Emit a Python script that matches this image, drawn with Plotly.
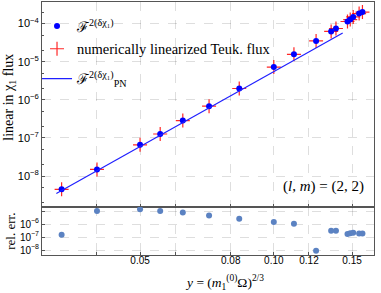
import plotly.graph_objects as go

# Data
y_vals = [0.0333, 0.0400, 0.0500, 0.0555, 0.0624, 0.0715, 0.0836, 0.1000, 0.1110,
          0.1245, 0.1346, 0.1380, 0.1465, 0.1486, 0.1509, 0.1556, 0.1583]
flux_teuk = [4.5e-9, 1.5e-8, 6.6e-8, 1.27e-7, 2.85e-7, 6.8e-7, 1.98e-6, 7.2e-6, 1.56e-5,
             3.5e-5, 6.2e-5, 7.4e-5, 1.13e-4, 1.27e-4, 1.49e-4, 1.82e-4, 2.0e-4]
flux_num = flux_teuk
pn_x = [0.0324, 0.0500, 0.0715, 0.1000, 0.1245, 0.1429]
pn_flux = [3.5e-9, 6.0e-8, 6.05e-7, 5.7e-6, 2.33e-5, 5.66e-5]
rel_err = [1.5e-7, 1.0e-5, 1.35e-5, 1.0e-5, 7.6e-6, 4.6e-6, 2.6e-6, 1.43e-6, 1.05e-6,
           9e-9, 3.1e-7, 3.1e-7, 1.7e-7, 2.0e-7, 2.1e-7, 1.9e-7, 1.9e-7]

x_grid = [0.04, 0.05, 0.06, 0.08, 0.10, 0.12, 0.15]
x_text = ["", "0.05", "", "0.08", "0.10", "0.12", "0.15"]
y_top_ticks = [1e-8, 1e-7, 1e-6, 1e-5, 1e-4]
y_top_text = ["10<sup>−8</sup>", "10<sup>−7</sup>", "10<sup>−6</sup>", "10<sup>−5</sup>", "10<sup>−4</sup>"]
y_bot_ticks = [1e-8, 1e-7, 1e-6, 1e-5]
y_bot_text = ["10<sup>−8</sup>", "10<sup>−7</sup>", "10<sup>−6</sup>", ""]

serif = "Liberation Serif"
sans = "Liberation Sans"
grid = "rgba(0,0,0,0.13)"
frame = "#555555"

fig = go.Figure()
fig.add_trace(go.Scatter(x=y_vals, y=flux_num, mode="markers", legend="legend2",
                         name="numerically linearized Teuk. flux",
                         marker=dict(symbol="cross-thin", size=10, line=dict(width=1.2, color="rgba(255,0,0,0.85)")),
                         xaxis="x", yaxis="y"))
fig.add_trace(go.Scatter(x=y_vals, y=flux_teuk, mode="markers", legend="legend",
                         name="ℱ<sup>2(δχ₁)</sup>",
                         marker=dict(symbol="circle", size=6, color="#0000ff"),
                         xaxis="x", yaxis="y"))
fig.add_trace(go.Scatter(x=pn_x, y=pn_flux, mode="lines", legend="legend3",
                         name="ℱ<sup>2(δχ₁)</sup><sub>PN</sub>",
                         line=dict(color="#2020ff", width=1.2),
                         xaxis="x", yaxis="y"))
fig.add_trace(go.Scatter(x=y_vals, y=rel_err, mode="markers", showlegend=False,
                         marker=dict(symbol="circle", size=6, color="#5b82c2"),
                         xaxis="x2", yaxis="y2"))

split = 48 / 253

axis_common = dict(showline=True, mirror=True, linecolor=frame, linewidth=1,
                   gridcolor=grid, griddash="dash", gridwidth=1, zeroline=False,
                   ticks="inside", ticklen=3, tickcolor=frame, automargin=False)

leg_common = dict(x=-0.015, xanchor="left", yanchor="middle", bgcolor="rgba(0,0,0,0)",
                  font=dict(family=serif, size=14.5), itemwidth=30)

fig.update_layout(
    width=381, height=293,
    margin=dict(l=42, r=7, t=2, b=38),
    paper_bgcolor="white", plot_bgcolor="white",
    font=dict(family=sans, size=11, color="black"),
    showlegend=True,
    legend=dict(y=0.905, **leg_common),
    legend2=dict(y=0.815, **leg_common),
    legend3=dict(y=0.697, **leg_common),
    xaxis=dict(type="log", range=[-1.5217, -0.7745], anchor="y", domain=[0, 1],
               tickvals=x_grid, ticktext=["" for _ in x_grid], **axis_common),
    yaxis=dict(type="log", range=[-8.81, -3.436], domain=[split, 1], anchor="x",
               tickvals=y_top_ticks, ticktext=y_top_text,
               tickfont=dict(family=sans, size=11),
               minor=dict(ticks="inside", ticklen=2, tickcolor=frame, showgrid=False),
               **axis_common),
    xaxis2=dict(type="log", range=[-1.5217, -0.7745], anchor="y2", domain=[0, 1],
                tickvals=x_grid, ticktext=x_text, tickfont=dict(family=sans, size=10),
                ticklabelstandoff=-4,
                **axis_common),
    yaxis2=dict(type="log", range=[-8.38, -4.69], domain=[0, split], anchor="x2",
                tickvals=y_bot_ticks, ticktext=y_bot_text,
                tickfont=dict(family=sans, size=10),
                **axis_common),
    annotations=[
        dict(text="(<i>l</i>, <i>m</i>) = (2, 2)", xref="paper", yref="paper",
             x=0.976, y=0.269, xanchor="right", yanchor="middle", showarrow=False,
             font=dict(family=serif, size=15)),
        dict(text="linear in χ<sub>1</sub> flux", xref="paper", yref="paper",
             x=-0.097, y=0.625, xanchor="center", yanchor="middle", textangle=-90, showarrow=False,
             font=dict(family=serif, size=14)),
        dict(text="rel. err.", xref="paper", yref="paper",
             x=-0.097, y=split / 2, xanchor="center", yanchor="middle", textangle=-90, showarrow=False,
             font=dict(family=serif, size=13)),
        dict(text="<i>y</i> = (<i>m</i><sub>1</sub><sup>(0)</sup>Ω)<sup>2/3</sup>", xref="paper", yref="paper",
             x=0.551, y=-0.11, xanchor="center", yanchor="middle", showarrow=False,
             font=dict(family=serif, size=13.5)),
    ],
)

fig.write_html("out.html", config={"displayModeBar": False},
               post_script="document.body.style.margin='0';")
